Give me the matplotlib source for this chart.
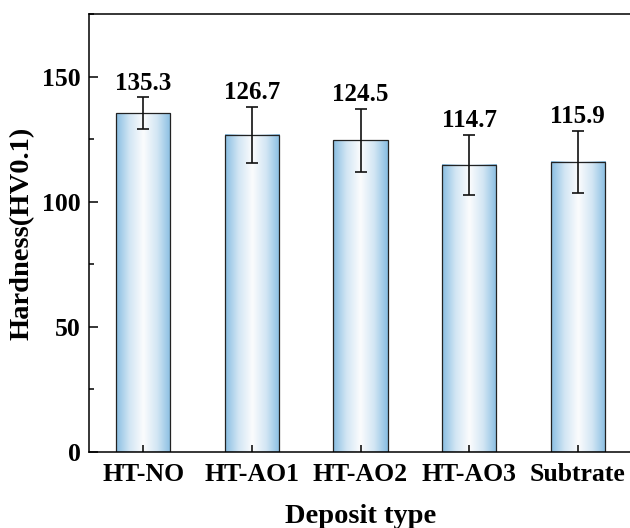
import numpy as np
import matplotlib
matplotlib.use('Agg')
import matplotlib.pyplot as plt
from matplotlib.colors import LinearSegmentedColormap
from matplotlib.ticker import MultipleLocator

plt.rcParams['font.family'] = 'Liberation Serif'
plt.rcParams['font.weight'] = 'bold'

categories = ['HT-NO', 'HT-AO1', 'HT-AO2', 'HT-AO3', 'Subtrate']
hardness = [135.3, 126.7, 124.5, 114.7, 115.9]
errors = [6.4, 11.3, 12.5, 12.0, 12.3]

fig = plt.figure(figsize=(6.3, 5.28), dpi=100)
ax = fig.add_axes([89/630, 76/528, 543/630, 438/528])

x = np.arange(len(categories))
width = 0.5

# horizontal gradient fill: blue -> white -> blue
cmap = LinearSegmentedColormap.from_list('grad', ['#88bde2', '#d3e6f4', '#fbfcfd', '#d3e6f4', '#88bde2'])
grad = np.linspace(0, 1, 256).reshape(1, -1)
for xi, h in zip(x, hardness):
    ax.imshow(grad, cmap=cmap, aspect='auto', extent=[xi - width/2, xi + width/2, 0, h],
              zorder=1, interpolation='bicubic')

ax.bar(x, hardness, width, fill=False, edgecolor='#222222', linewidth=0.9, zorder=2)
ax.errorbar(x, hardness, yerr=errors, fmt='none', ecolor='#111111', elinewidth=1.2,
            capsize=4, capthick=1.2, zorder=3)

for xi, h, e in zip(x, hardness, errors):
    ax.annotate(f'{h}', (xi, h + e), xytext=(0, 2), textcoords='offset points',
                ha='center', va='bottom', fontsize=18, fontweight='bold')

ax.set_xlim(-0.5, 4.5)
ax.set_ylim(0, 175)
ax.set_xticks(x)
ax.set_xticklabels(categories)
ax.set_yticks([0, 50, 100, 150])
ax.yaxis.set_minor_locator(MultipleLocator(25))

ax.tick_params(axis='both', which='major', direction='in', width=1.1, labelsize=18.5)
ax.tick_params(axis='y', which='major', length=6.5, pad=6)
ax.tick_params(axis='x', which='major', length=5, pad=8)
ax.tick_params(axis='y', which='minor', direction='in', length=3.5, width=1.1)
for s in ax.spines.values():
    s.set_linewidth(1.1)

ax.set_xlabel('Deposit type', fontsize=20.5, fontweight='bold', labelpad=13)
ax.set_ylabel('Hardness(HV0.1)', fontsize=20.5, fontweight='bold', labelpad=5)

fig.savefig('out.png', dpi=100)
